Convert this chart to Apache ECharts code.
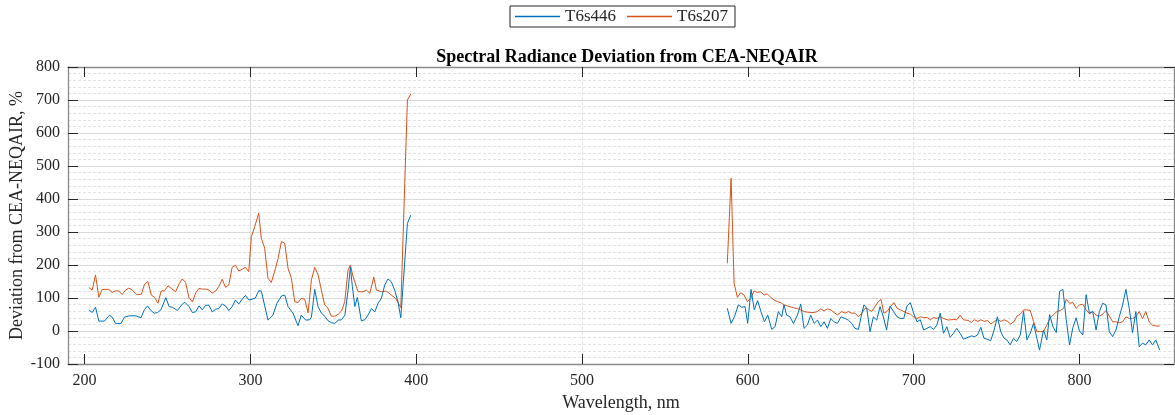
<!DOCTYPE html>
<html>
<head>
<meta charset="utf-8">
<script src="https://cdn.jsdelivr.net/npm/echarts@6/dist/echarts.min.js"></script>
<style>
html, body { margin: 0; padding: 0; background: #fff; }
#chart { width: 1175px; height: 415px; }
</style>
</head>
<body>
<div id="chart"></div>
<script>
// T6s446, UV part
var wlBlueA = [202.6,204.6,206.6,208.6,212,215,216.6,218.7,222,224,227,231,234,236,238,240,242,244,246,249,251,253,256,259,260.5,263,265,267,269,271,273,275,277,279,281,283,285,287,289,291,293,295,297,299,301,303,305,306.6,310.6,313.6,316,318.7,320.7,322.7,325.7,328.7,330.7,333.4,335.8,336.8,338.8,340.8,342.8,345,346.8,349,350.9,353,354.9,357,358.9,360.3,361.5,363,364.5,366.9,369,370.9,373,375,377,379,381,383,385,387,389,390.7,394.7,396.7];
var blueA = [64,56,72,30,30,48,42,23,23,42,46,46,40,64,76,62,54,56,64,101,74,72,62,82,87,74,56,58,76,64,78,78,58,66,68,82,76,62,74,94,82,96,108,94,96,100,122,121,33,48,84,106,109,74,54,16,48,33,34,42,126,74,54,44,31,25,23,33,34,48,124,193,134,74,102,31,34,48,68,58,84,99,139,158,149,124,89,40,326,351];
// T6s446, visible/IR part
var wlBlueB = [587.6,589.9,591.9,594.3,596.3,598.3,599.9,601.9,603.9,605.9,607.9,610,612,614.4,616.4,618.4,620.4,621.8,623.4,625.4,627.5,629.9,631.9,633.9,635.9,637.9,640,642,644,646,648,650,652,654,656.2,658.6,660.6,662.6,664.6,666.7,668.3,670,671.7,673.7,675.7,677.7,679.7,681.7,683.7,685.8,687.8,690,692,694,696,698,700,702,704,706,708,710,712,714,716,718,720,722,724,726,728,730,732.8,734.8,736.8,738.5,740.5,742.4,744.4,746.5,748.5,750.5,752.5,754.5,756.2,758.2,760.2,762.2,764.3,766.3,768.3,770.3,772.3,774.3,775.9,778.3,780.3,782,784,786,788,790,792,794,796,798,800,802,804,806,808,810,812,814,816,818,820,822,824,826,828,830,832,834,836,838,840,842,844,846,848.4];
var blueB = [69,23,43,79,72,74,23,126,64,92,59,28,48,5,13,59,43,79,48,43,23,48,82,8,18,48,23,33,13,28,8,38,28,23,43,38,33,23,8,5,43,79,69,-2,43,33,74,43,3,76,59,43,38,38,76,86,54,28,34,3,8,13,5,18,54,-7,13,-19,-7,8,-7,-25,-19,-15,-17,-12,11,-22,-25,-29,3,43,-2,-22,-27,-42,-22,-32,-12,59,-27,-7,23,-22,-58,3,-27,50,13,-5,120,126,35,-42,10,40,0,-12,110,54,59,3,59,84,79,-2,-17,3,43,79,126,69,-5,59,-48,-37,-42,-27,-42,-27,-58];

// T6s207, UV part
var wlOrangeA = [202.6,204.6,206.6,208.6,210.6,214.6,216.6,218.7,220.6,222.7,224.7,226.7,228.7,231.2,234.2,236.2,238.2,240.2,242.2,244.2,246.2,248.2,250.3,252.3,254.9,256.9,258.9,260.9,262.9,265,267,269,271,273,275,277,279,281,283,285,287,289,291,293,295,297,299,300.6,302.6,305,306.6,308.6,310.6,312.6,314.6,316.7,318.7,320.7,322.7,324.7,326.7,328.7,330.7,332.8,334.8,336.8,338.8,340.8,342.8,344.8,346.8,348.8,350.9,353,355,356.9,358.9,360.3,361.9,364.9,367.9,370,372,374.4,376,379,382,385,387.6,390.7,394.7,396.7];
var orangeA = [132,124,170,102,126,126,117,122,121,111,124,130,124,111,111,142,150,109,102,84,121,122,137,129,119,142,158,147,102,88,115,129,127,127,124,115,121,135,157,132,140,193,199,182,187,193,180,286,316,357,281,251,160,147,180,220,271,266,190,160,89,86,99,96,55,155,193,171,124,79,69,45,45,51,61,89,185,200,165,119,119,124,114,163,124,119,121,109,99,71,700,718];
// T6s207, visible/IR part
var wlOrangeB = [587.6,589.9,591.7,593.7,595.7,597.7,599.7,601.8,603.7,605.7,607.7,609.8,611.8,613.8,615.8,617.8,619.8,621.8,623.8,625.9,627.9,629.9,631.9,633.9,635.9,637.9,640,642,644,646,648,650,652,654,656.6,658.6,660.6,662.6,664.6,666.7,668.7,670.7,672.7,674.7,676.7,678.7,680.3,682,684,686,688,690,692,694,696,698,700,702,704,706,708,710,712,714,716,718,721,724,726,728,730,732.8,734.8,736.7,738.7,740.6,742.6,744.6,746.6,748.6,750.6,752.6,754.6,756.6,758.6,760.6,762.3,764.3,766.3,768.3,770.3,772.3,774.3,776.3,778.3,780.3,782.3,784.4,786.4,788.4,790.4,792,794,796,798,800,802,804,806,808,810,812,814,816,818,820,822,824,826,828,830,832,834,836,838,840,842,844,846,848.4];
var orangeB = [205,463,145,102,116,109,89,99,121,117,119,109,112,102,94,89,86,79,76,73,70,68,64,59,57,56,56,59,67,61,67,64,56,49,59,54,59,54,54,43,54,69,66,59,74,89,96,54,59,74,86,69,64,59,54,51,43,38,43,41,41,34,41,38,43,38,33,35,34,48,34,32,26,34,29,34,29,32,21,29,34,29,34,29,21,29,45,51,64,64,62,29,-2,-2,-2,18,39,50,59,62,69,96,84,86,69,79,81,64,52,59,48,45,51,62,45,28,28,25,28,43,38,38,43,59,38,59,28,18,15,15];

var xTicks = [200, 300, 400, 500, 600, 700, 800];

var FONT = 'Liberation Serif';
var INK = '#262626';
var FRAME = '#8a8a8a';
var T = 'rgba(0,0,0,0)';

function pairs(wl, v) {
    var out = [];
    for (var i = 0; i < Math.min(wl.length, v.length); i++) out.push([wl[i], v[i]]);
    return out;
}
// '-' breaks the line between the two spectral windows
var blueData = pairs(wlBlueA, blueA).concat([['-', '-']], pairs(wlBlueB, blueB));
var orangeData = pairs(wlOrangeA, orangeA).concat([['-', '-']], pairs(wlOrangeB, orangeB));

var chart = echarts.init(document.getElementById('chart'), null, { renderer: 'canvas' });

// x axis ticks run every 10 from 190; split lines pick their colour in turn
var majorColors = [T, '#d9d9d9', T, T, T, T, T, T, T, T];
var minorColors = [T, T, T, '#e3e3e3', T, '#e3e3e3', T, '#e3e3e3', T, '#e3e3e3'];

var option = {
    animation: false,
    backgroundColor: '#fff',
    title: {
        text: 'Spectral Radiance Deviation from CEA-NEQAIR',
        left: 622,
        top: 43,
        textAlign: 'center',
        textStyle: { fontFamily: FONT, fontSize: 18, fontWeight: 'bold', color: '#000' }
    },
    legend: {
        left: 510,
        top: 6,
        itemWidth: 45,
        itemHeight: 1.5,
        itemGap: 11,
        padding: [2, 7, 2, 5],
        borderColor: INK,
        borderWidth: 1,
        textStyle: { fontFamily: FONT, fontSize: 17, color: INK },
        data: [{ name: 'T6s446', icon: 'rect' }, { name: 'T6s207', icon: 'rect' }]
    },
    grid: { left: 68, right: 1, top: 67, bottom: 51, containLabel: false, outerBoundsMode: 'none' },
    xAxis: [{
        type: 'value',
        min: 190,
        max: 857,
        interval: 10,
        name: 'Wavelength, nm',
        nameLocation: 'middle',
        nameGap: 29,
        nameTextStyle: { fontFamily: FONT, fontSize: 18, color: INK },
        axisLine: { show: true, onZero: false, lineStyle: { color: FRAME, width: 1.3 } },
        axisTick: { show: true, inside: true, length: 10, customValues: xTicks, lineStyle: { color: INK, width: 1 } },
        axisLabel: {
            margin: 9,
            fontFamily: FONT, fontSize: 16, color: INK,
            customValues: xTicks,
            formatter: function (v) { return (v % 100 === 0) ? String(v) : ''; }
        },
        splitLine: { show: true, lineStyle: { color: majorColors, width: 1 } }
    }, {
        type: 'value',
        position: 'top',
        min: 190,
        max: 857,
        interval: 10,
        axisLine: { show: true, onZero: false, lineStyle: { color: FRAME, width: 1.3 } },
        axisTick: { show: true, inside: true, length: 10, customValues: xTicks, lineStyle: { color: INK, width: 1 } },
        axisLabel: { show: false },
        splitLine: { show: true, lineStyle: { color: minorColors, width: 1, type: [3, 2] } }
    }],
    yAxis: [{
        type: 'value',
        min: -100,
        max: 800,
        interval: 100,
        name: 'Deviation from CEA-NEQAIR, %',
        nameLocation: 'middle',
        nameGap: 42,
        nameMoveOverlap: false,
        nameTextStyle: { fontFamily: FONT, fontSize: 18, color: INK },
        axisLine: { show: true, onZero: false, lineStyle: { color: FRAME, width: 1.3 } },
        axisTick: { show: true, inside: true, length: 10, lineStyle: { color: INK, width: 1 } },
        axisLabel: { margin: 8, fontFamily: FONT, fontSize: 16, color: INK },
        splitLine: { show: true, lineStyle: { color: '#d9d9d9', width: 1 } },
        minorTick: { show: false, splitNumber: 5 },
        minorSplitLine: { show: true, lineStyle: { color: '#e3e3e3', width: 1, type: [3, 2] } }
    }, {
        type: 'value',
        position: 'right',
        min: -100,
        max: 800,
        interval: 100,
        axisLine: { show: true, onZero: false, lineStyle: { color: FRAME, width: 1.3 } },
        axisTick: { show: true, inside: true, length: 10, lineStyle: { color: INK, width: 1 } },
        axisLabel: { show: false },
        splitLine: { show: false }
    }],
    series: [{
        name: 'T6s446',
        type: 'line',
        xAxisIndex: 0,
        yAxisIndex: 0,
        data: blueData,
        symbol: 'none',
        connectNulls: false,
        lineStyle: { color: '#0072BD', width: 1 },
        itemStyle: { color: '#0072BD' },
        z: 3
    }, {
        name: 'T6s207',
        type: 'line',
        xAxisIndex: 0,
        yAxisIndex: 0,
        data: orangeData,
        symbol: 'none',
        connectNulls: false,
        lineStyle: { color: '#D95319', width: 1 },
        itemStyle: { color: '#D95319' },
        z: 2
    }]
};

chart.setOption(option);
</script>
</body>
</html>
